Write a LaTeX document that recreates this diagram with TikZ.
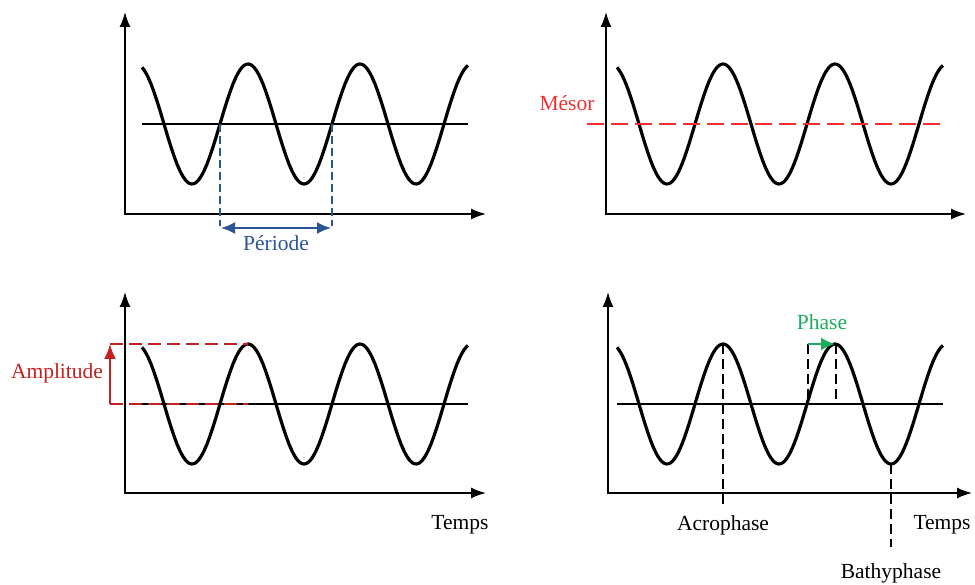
\documentclass[tikz,border=0pt]{standalone}
\usepackage{fontspec}
\setmainfont{Liberation Serif}
\usetikzlibrary{arrows.meta}
\definecolor{perblue}{HTML}{2C5596}
\definecolor{mesred}{HTML}{F03030}
\definecolor{ampred}{HTML}{C42020}
\definecolor{phgreen}{HTML}{1DAA5C}

% one cosine wave with its three peaks (period 112)
\newcommand{\rhythmwave}{%
  \draw[wave] plot[domain=142:468, samples=160, smooth] (\x, {124-60*cos(3.2142857*(\x-248))});}

\begin{document}
\begin{tikzpicture}[x=1pt, y=-1pt, font=\fontsize{21.5}{24}\selectfont,
  wave/.style={line width=3.2pt, line join=round},
  axes/.style={line width=1.7pt, {Latex[length=15pt,width=11pt]}-{Latex[length=15pt,width=11pt]}},
  mid/.style={line width=1.3pt}]
  \useasboundingbox (0,0) rectangle (975,585);

  % Periode
  \rhythmwave
  \draw[mid] (142,124) -- (468,124);
  \draw[axes] (125,12) -- (125,214) -- (486,214);
  \draw[perblue, line width=1.4pt, dash pattern=on 8pt off 4pt] (220,124) -- (220,226);
  \draw[perblue, line width=1.4pt, dash pattern=on 8pt off 4pt] (332,124) -- (332,226);
  \draw[perblue, line width=2pt, {Latex[length=14pt,width=12pt]}-{Latex[length=14pt,width=12pt]}] (221,228) -- (331,228);
  \node[perblue] (periode) at (276,243) {Période};

  % Mesor
  \begin{scope}[shift={(475,0)}]
    \rhythmwave
    \draw[axes] (131,12) -- (131,214) -- (491,214);
    \draw[mesred, line width=1.7pt, dash pattern=on 17pt off 7pt] (112,124) -- (470,124);
    \node[mesred] (mesor) at (92,103) {Mésor};
  \end{scope}

  % Amplitude
  \begin{scope}[shift={(0,280)}]
    \rhythmwave
    \draw[mid] (142,124) -- (468,124);
    \draw[axes] (125,12) -- (125,213) -- (486,213);
    \draw[ampred, line width=1.5pt, dash pattern=on 13pt off 6pt] (110,64) -- (248,64);
    \draw[ampred, line width=1.5pt, dash pattern=on 13pt off 6pt] (110,124) -- (248,124);
    \draw[ampred, line width=2pt, -{Latex[length=15pt,width=12pt]}] (110,124) -- (110,64);
    \node[ampred] (amplitude) at (57,93) {Amplitude};
    \node (temps1) at (460,245) {Temps};
  \end{scope}

  % Acrophase, bathyphase et phase
  \begin{scope}[shift={(475,280)}]
    \rhythmwave
    \draw[mid] (142,124) -- (468,124);
    \draw[axes] (133,12) -- (133,213) -- (497,213);
    \draw[line width=1.4pt, dash pattern=on 10pt off 5pt] (248,64) -- (248,227);
    \draw[line width=1.4pt, dash pattern=on 10pt off 5pt] (416,184) -- (416,267);
    \draw[line width=1.4pt, dash pattern=on 10pt off 5pt] (333,64) -- (333,124);
    \draw[line width=1.4pt, dash pattern=on 10pt off 5pt] (361,64) -- (361,124);
    \draw[phgreen, line width=2pt, -{Latex[length=14pt,width=13pt]}] (333,64) -- (360,64);
    \node[phgreen] (phase) at (347,42) {Phase};
    \node (acrophase) at (248,245) {Acrophase};
    \node (bathyphase) at (416,293) {Bathyphase};
    \node (temps2) at (467,245) {Temps};
  \end{scope}
\end{tikzpicture}
\end{document}
